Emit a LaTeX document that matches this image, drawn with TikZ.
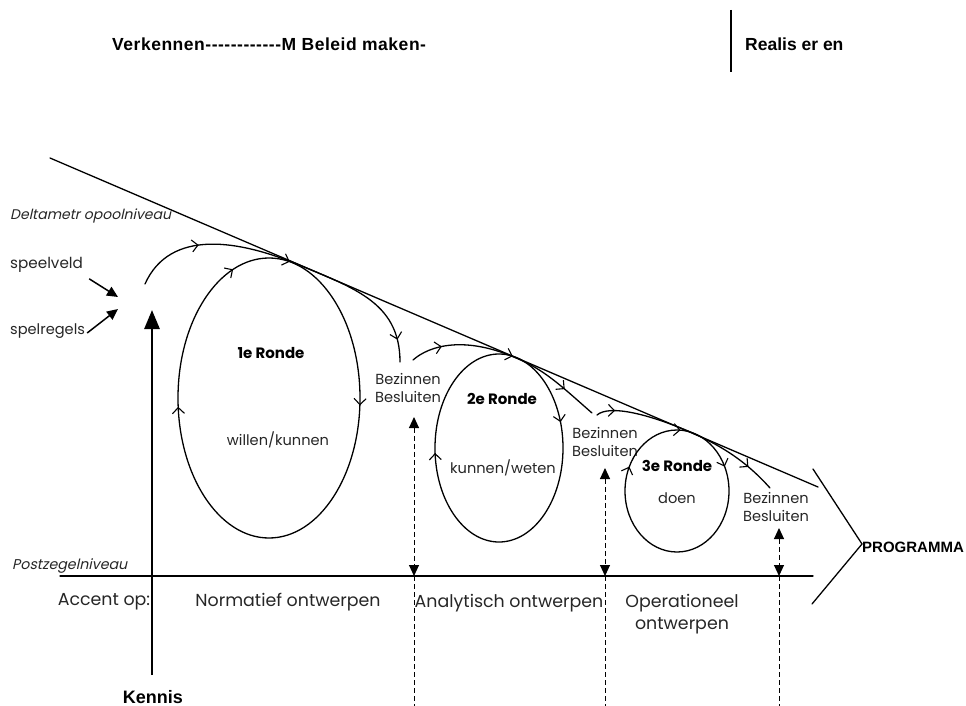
\documentclass[tikz,border=0pt]{standalone}
\usepackage{fontspec}
\setmainfont{Liberation Sans}
\newfontfamily\headfont[Ligatures=TeXOff]{Liberation Sans}
\newfontfamily\headwide[Ligatures=TeXOff, LetterSpace=3]{Liberation Sans}
\newfontfamily\gothic{Poppins}
\newfontfamily\gothicsl[FakeSlant=0.22]{Poppins}
\usetikzlibrary{arrows.meta,decorations.markings}

\tikzset{
  line/.style={line width=1.3pt, line cap=round},
  heavy/.style={line width=2.8pt},
  dashline/.style={line width=1pt, dash pattern=on 5pt off 3pt},
  lbl/.style={font=\gothic\fontsize{14.6}{17}\selectfont, inner sep=0pt, text=black!85},
  big/.style={font=\gothic\fontsize{17.4}{20}\selectfont, inner sep=0pt, text=black!85},
  round/.style={font=\gothic\bfseries\fontsize{15}{17}\selectfont, inner sep=0pt},
  level/.style={font=\gothicsl\fontsize{14}{16}\selectfont, inner sep=0pt, text=black!85},
  head/.style={font=\headfont\bfseries\fontsize{17.5}{20}\selectfont, inner sep=0pt},
  barb/.style={postaction={decorate, decoration={markings,
      mark=at position #1 with {\arrow{Straight Barb[length=6pt,width=12pt,line width=1.1pt]}}}}},
  bothtips/.style={{Triangle[length=11pt,width=10pt]}-{Triangle[length=11pt,width=10pt]}},
}

\begin{document}
\begin{tikzpicture}[x=1pt, y=-1pt]
  \useasboundingbox (0,0) rectangle (966,706);

  % phase header
  \node[head, font=\headwide\bfseries\fontsize{17.5}{20}\selectfont, anchor=west] (verk) at (112,44) {Verkennen------------M Beleid maken-};
  \coordinate (sep0) at (731,10);
  \coordinate (sep1) at (731,72);
  \draw[line width=2pt] (sep0) -- (sep1);
  \node[head, anchor=west] (real) at (745,44) {Realis er en};

  % the two levels
  \coordinate (dtop) at (50,158);
  \coordinate (dend) at (818,487);
  \draw[line] (dtop) -- (dend);
  \node[level, anchor=west] (delta) at (10,216) {Deltametr opoolniveau};

  \coordinate (pz0) at (60,576);
  \coordinate (pz1) at (813,576);
  \draw[line] (pz0) -- (pz1);
  \node[level, font=\gothicsl\fontsize{14.2}{16}\selectfont, anchor=west] (postz) at (12,566) {Postzegelniveau};

  % programme chevron
  \coordinate (ch1) at (813,469);
  \coordinate (ch2) at (862,544);
  \coordinate (ch3) at (812,604);
  \draw[line] (ch1) -- (ch2) -- (ch3);
  \node[font=\bfseries\fontsize{15}{18}\selectfont, inner sep=0pt, anchor=west] (prog) at (862,547) {PROGRAMMA};

  % start: field and rules
  \node[lbl, font=\gothic\fontsize{15.2}{17}\selectfont, anchor=west] (veld) at (10,265) {speelveld};
  \node[lbl, anchor=west] (regels) at (10,331) {spelregels};
  \draw[line width=1.5pt, -{Triangle[length=11pt,width=10pt]}] (veld.south east) ++(6,6) coordinate (v0) -- (118,297) coordinate (v1);
  \draw[line width=1.5pt, -{Triangle[length=11pt,width=10pt]}] (regels.east) ++(2,2) coordinate (r0) -- (118,309) coordinate (r1);

  % knowledge axis
  \node[font=\bfseries\fontsize{18}{21}\selectfont, inner sep=0pt] (kennis) at (153,697) {Kennis};
  \coordinate (kbase) at (152,675);
  \coordinate (ktip) at (152,310);
  \draw[heavy, -{Triangle[length=19pt,width=15pt]}] (kbase) -- (ktip);

  % round 1
  \draw[line, barb=0.01, barb=0.488, barb=0.698, barb=0.779] (269,398) ellipse [x radius=91, y radius=140];
  \node[round] (r1t) at (271,353) {1e Ronde};
  \node[lbl] (r1w) at (278,440) {willen/kunnen};
  \coordinate (a0) at (145,284);
  \coordinate (a1) at (300,265.5);
  \draw[line, barb=0.4] (a0) .. controls (170,228) and (240,240) .. (a1);
  \coordinate (b0) at (290,261);
  \coordinate (b1) at (400,362);
  \draw[line, barb=0.86] (b0) .. controls (350,287) and (400,300) .. (b1);
  \node[lbl] (bez1) at (408,379) {Bezinnen};
  \node[lbl] (bes1) at (408,397) {Besluiten};

  % round 2
  \draw[line, barb=0.948, barb=0.49, barb=0.778] (499,448) ellipse [x radius=64, y radius=94];
  \node[round] (r2t) at (502,399) {2e Ronde};
  \node[lbl] (r2w) at (503,468) {kunnen/weten};
  \coordinate (c0) at (413,360);
  \coordinate (c1) at (515,357.5);
  \draw[line, barb=0.3] (c0) .. controls (430,345) and (465,336) .. (c1);
  \coordinate (d1) at (592,413);
  \draw[line, barb=0.62] (c1) .. controls (545,370) and (560,385) .. (d1);
  \node[lbl] (bez2) at (605,433) {Bezinnen};
  \node[lbl] (bes2) at (605,451) {Besluiten};

  % round 3
  \draw[line, barb=0.93, barb=0.57, barb=0.76] (677,491) ellipse [x radius=52, y radius=61];
  \node[round] (r3t) at (677,466) {3e Ronde};
  \node[lbl] (r3w) at (677,498) {doen};
  \coordinate (e0) at (597,415);
  \coordinate (e1) at (688,431);
  \draw[line, barb=0.2] (e0) .. controls (610,404) and (650,415) .. (e1);
  \coordinate (f1) at (770,488);
  \draw[line, barb=0.7] (e1) .. controls (720,445) and (745,460) .. (f1);
  \node[lbl] (bez3) at (776,498) {Bezinnen};
  \node[lbl] (bes3) at (776,516) {Besluiten};

  % decision moments down to the postage-stamp level
  \foreach \n/\x/\y in {1/414/417, 2/605/468, 3/779/528} {
    \coordinate (q\n t) at (\x,\y);
    \coordinate (q\n b) at (\x,576);
    \coordinate (q\n e) at (\x,706);
    \draw[dashline, bothtips] (q\n t) -- (q\n b);
    \draw[dashline] (q\n b) -- (q\n e);
  }

  % emphasis per round
  \node[big] (acc) at (104,602) {Accent op:};
  \node[big] (norm) at (288,602) {Normatief ontwerpen};
  \node[big] (anal) at (509,603) {Analytisch ontwerpen};
  \node[big] (oper) at (682,603) {Operationeel};
  \node[big] (oper2) at (682,626) {ontwerpen};
\end{tikzpicture}
\end{document}
